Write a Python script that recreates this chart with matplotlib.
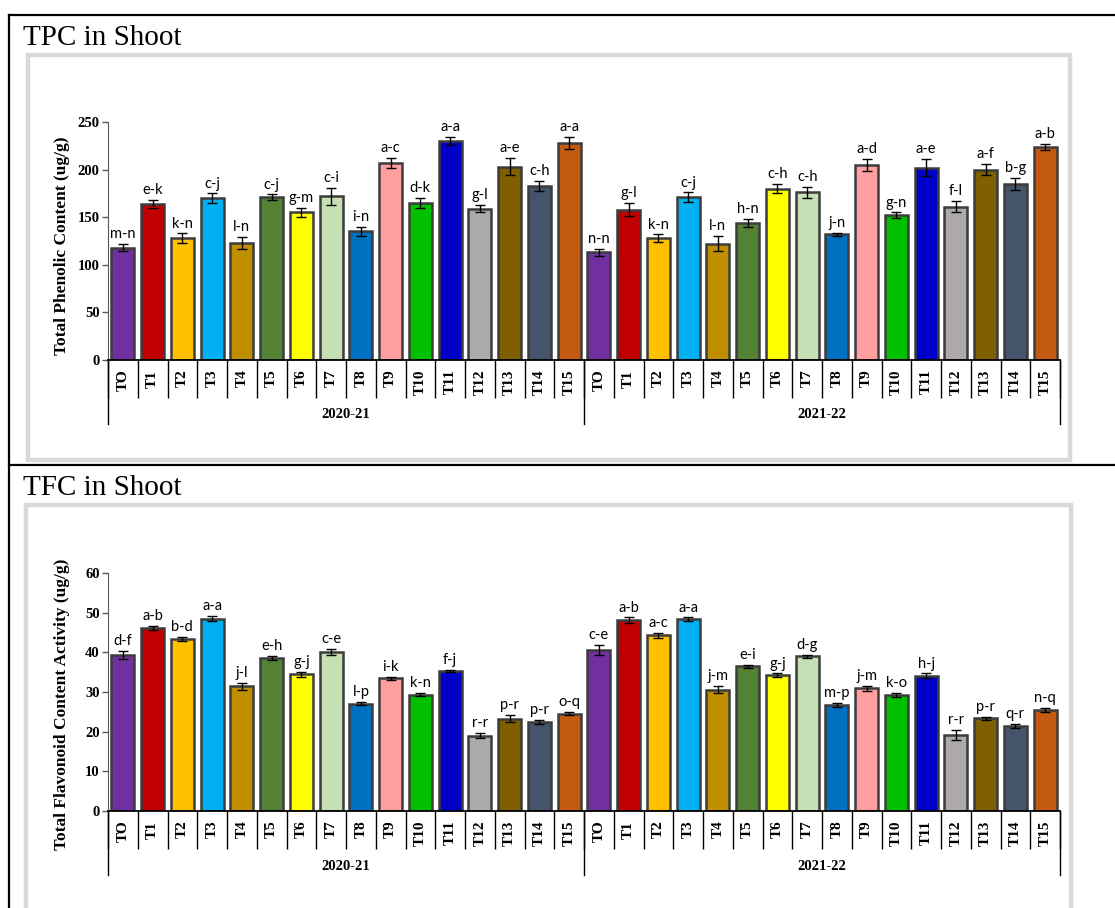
import matplotlib
matplotlib.use("Agg")
import matplotlib.pyplot as plt
from matplotlib.lines import Line2D
from matplotlib.patches import Rectangle

# 数据
treatments = ["TO"] + ["T%d" % i for i in range(1, 16)]
seasons = ["2020-21", "2021-22"]

bar_colors = ["#7030A0", "#C00000", "#FFC000", "#00B0F0", "#BF8F00", "#548235",
              "#FFFF00", "#C5E0B4", "#0070C0", "#FF9F9F", "#00C000", "#0000C8",
              "#AEAAAA", "#7F6000", "#44546A", "#C55A11"]

tpc_2020 = [118, 164, 128, 170, 123, 171, 155, 172, 135, 207, 165, 230, 159, 203, 183, 228]
tpc_2020_err = [4, 4, 5, 5, 6, 3, 5, 9, 5, 5, 5, 4, 4, 9, 5, 6]
tpc_2020_lab = ["m-n", "e-k", "k-n", "c-j", "l-n", "c-j", "g-m", "c-i",
                "i-n", "a-c", "d-k", "a-a", "g-l", "a-e", "c-h", "a-a"]
tpc_2021 = [113, 158, 128, 171, 122, 144, 180, 176, 132, 205, 152, 202, 161, 200, 185, 224]
tpc_2021_err = [4, 7, 4, 5, 8, 4, 5, 6, 1.5, 6, 3, 9, 6, 6, 6, 3]
tpc_2021_lab = ["n-n", "g-l", "k-n", "c-j", "l-n", "h-n", "c-h", "c-h",
                "j-n", "a-d", "g-n", "a-e", "f-l", "a-f", "b-g", "a-b"]

tfc_2020 = [39.3, 46.1, 43.3, 48.5, 31.4, 38.6, 34.5, 40.1, 27.1, 33.5, 29.3, 35.3, 19.0, 23.3, 22.5, 24.5]
tfc_2020_err = [1.0, 0.5, 0.5, 0.6, 0.9, 0.5, 0.6, 0.8, 0.5, 0.4, 0.4, 0.3, 0.6, 0.9, 0.5, 0.4]
tfc_2020_lab = ["d-f", "a-b", "b-d", "a-a", "j-l", "e-h", "g-j", "c-e",
                "l-p", "i-k", "k-n", "f-j", "r-r", "p-r", "p-r", "o-q"]
tfc_2021 = [40.6, 48.1, 44.3, 48.3, 30.6, 36.5, 34.3, 39.0, 26.7, 30.9, 29.2, 34.1, 19.1, 23.4, 21.4, 25.5]
tfc_2021_err = [1.3, 0.7, 0.6, 0.5, 0.9, 0.4, 0.4, 0.4, 0.6, 0.6, 0.5, 0.6, 1.3, 0.4, 0.6, 0.5]
tfc_2021_lab = ["c-e", "a-b", "a-c", "a-a", "j-m", "e-i", "g-j", "d-g",
                "m-p", "j-m", "k-o", "h-j", "r-r", "p-r", "q-r", "n-q"]

W, H = 1115, 908
fig = plt.figure(figsize=(W / 100, H / 100), dpi=100)
fig.patch.set_facecolor("white")


def fx(px):
    return px / W


def fy(py):
    return 1 - py / H


# 表格边框
for x0, y0, x1, y1 in [(9, 15, W, 15), (9, 465, W, 465), (9, 15, 9, H)]:
    fig.add_artist(Line2D([fx(x0), fx(x1)], [fy(y0), fy(y1)], color="black", lw=1.6))

# 灰色图框
fig.add_artist(Rectangle((fx(28), fy(460)), fx(1070 - 28), (460 - 55) / H, fill=False,
                         edgecolor="#d9d9d9", lw=3.2))
fig.add_artist(Rectangle((fx(26), fy(920)), fx(1071 - 26), (920 - 505) / H, fill=False,
                         edgecolor="#d9d9d9", lw=3.2))

fig.text(fx(23), fy(45), "TPC in Shoot", family="Liberation Serif", fontsize=21, va="baseline")
fig.text(fx(23), fy(495), "TFC in Shoot", family="Liberation Serif", fontsize=21, va="baseline")


def draw_panel(top, bottom, ymax, ystep, ylabel, label_y, v1, e1, l1, v2, e2, l2):
    ax = fig.add_axes([fx(108), fy(bottom), fx(1060 - 108), (bottom - top) / H])
    vals = v1 + v2
    errs = e1 + e2
    labs = l1 + l2
    cols = bar_colors + bar_colors
    x = list(range(len(vals)))
    ax.bar(x, vals, width=0.78, color=cols, edgecolor="#3c3c3c", linewidth=1.8, zorder=2)
    ax.errorbar(x, vals, yerr=errs, fmt="none", ecolor="black", elinewidth=1,
                capsize=3.5, capthick=1, zorder=3)
    for xi, v, e, t in zip(x, vals, errs, labs):
        ax.annotate(t, (xi, v + e), xytext=(0, 2), textcoords="offset points",
                    ha="center", va="bottom", family="Lato", fontsize=10.5)

    ax.set_xlim(-0.5, len(vals) - 0.5)
    ax.set_ylim(0, ymax)
    ax.set_yticks(range(0, ymax + 1, ystep))
    ax.set_xticks(x)
    ax.set_xticklabels(treatments + treatments, rotation=90, family="Liberation Serif",
                       fontweight="bold", fontsize=11)
    ax.tick_params(axis="x", which="major", length=0, pad=7)
    ax.set_xticks([i - 0.5 for i in range(len(vals) + 1)], minor=True)
    ax.tick_params(axis="x", which="minor", length=27, width=1, color="black")
    for lbl in ax.get_yticklabels():
        lbl.set_family("Liberation Serif")
        lbl.set_fontweight("bold")
        lbl.set_fontsize(10.5)
    ax.tick_params(axis="y", length=4, width=1, color="#595959", pad=2)
    ax.set_ylabel(ylabel, family="Liberation Serif", fontweight="bold", fontsize=12.5)
    ax.yaxis.set_label_coords(-38 / 952, label_y)

    ax.spines["top"].set_visible(False)
    ax.spines["right"].set_visible(False)
    ax.spines["left"].set_color("#595959")
    ax.spines["bottom"].set_color("black")
    ax.spines["bottom"].set_linewidth(1.3)
    ax.patch.set_alpha(0)

    # 年份分组线和标签
    ah = bottom - top
    for gx in [-0.5, 15.5, 31.5]:
        ax.plot([gx, gx], [0, -64 / ah], transform=ax.get_xaxis_transform(),
                color="black", lw=1, clip_on=False)
    for i, s in enumerate(seasons):
        ax.text(7.5 + 16 * i, -55 / ah, s, transform=ax.get_xaxis_transform(),
                ha="center", va="center", family="Liberation Serif",
                fontweight="bold", fontsize=10.5)
    return ax


draw_panel(122, 360, 250, 50, "Total Phenolic Content (ug/g)", 0.48,
           tpc_2020, tpc_2020_err, tpc_2020_lab, tpc_2021, tpc_2021_err, tpc_2021_lab)
draw_panel(573, 811, 60, 10, "Total Flavonoid Content Activity (ug/g)", 0.45,
           tfc_2020, tfc_2020_err, tfc_2020_lab, tfc_2021, tfc_2021_err, tfc_2021_lab)

plt.savefig("out.png", dpi=100)
